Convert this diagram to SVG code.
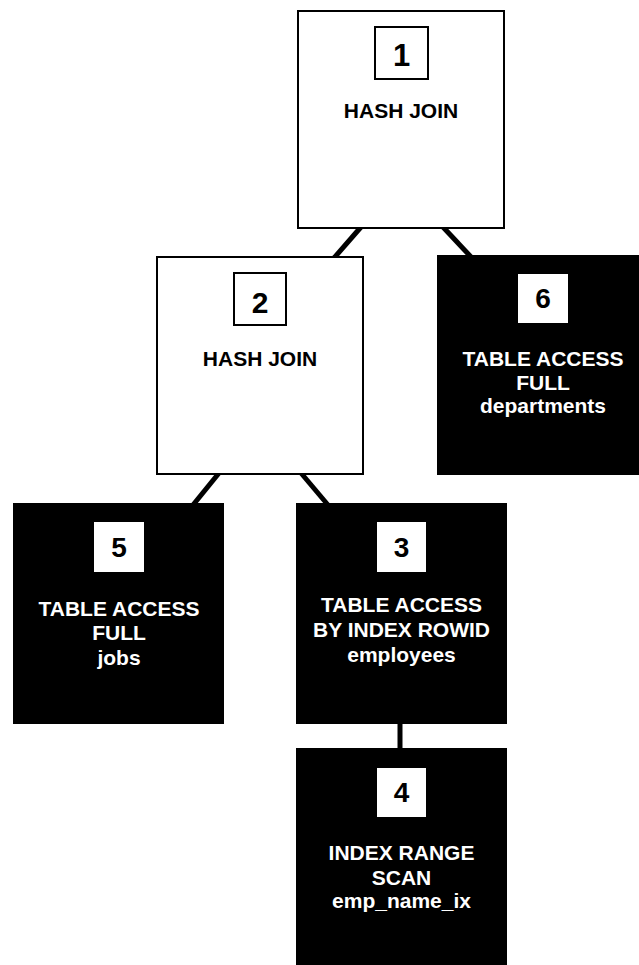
<svg xmlns="http://www.w3.org/2000/svg" width="639" height="965" viewBox="0 0 639 965">
<style>
.wn{fill:#fff;stroke:#000;stroke-width:2}
.bn{fill:#000}
.wb{fill:#fff;stroke:#000;stroke-width:2}
.bb{fill:#fff}
.t{font-family:"Liberation Sans",Arial,sans-serif;font-weight:bold;font-size:21px;text-anchor:middle}
.tw{fill:#fff}
.tk{fill:#000}
.num{font-family:"Liberation Sans",Arial,sans-serif;font-weight:bold;text-anchor:middle;fill:#000}
.c{stroke:#000;stroke-width:5;fill:none}
</style>
<rect width="639" height="965" fill="#fff"/>
<g id="connectors">
<line class="c" x1="361" y1="227" x2="334" y2="258"/>
<line class="c" x1="443" y1="227" x2="472" y2="258"/>
<line class="c" x1="219" y1="473" x2="193" y2="505"/>
<line class="c" x1="301" y1="473" x2="328" y2="505"/>
<line class="c" x1="400" y1="720" x2="400" y2="752"/>
</g>
<g id="node1">
<rect class="wn" x="298" y="11" width="206" height="217"/>
<rect class="wb" x="375" y="27" width="53" height="52"/>
<text class="num" x="401.5" y="66" font-size="31">1</text>
<text class="t tk" x="401" y="118">HASH JOIN</text>
</g>
<g id="node2">
<rect class="wn" x="157" y="257" width="206" height="217"/>
<rect class="wb" x="234" y="273" width="52" height="52"/>
<text class="num" x="260" y="313" font-size="30">2</text>
<text class="t tk" x="260" y="366">HASH JOIN</text>
</g>
<g id="node6">
<rect class="bn" x="437" y="255" width="211" height="220"/>
<rect class="bb" x="518" y="274" width="50" height="49"/>
<text class="num" x="543" y="308" font-size="28">6</text>
<text class="t tw" x="543" y="366">TABLE ACCESS</text>
<text class="t tw" x="543" y="390">FULL</text>
<text class="t tw" x="543" y="413">departments</text>
</g>
<g id="node5">
<rect class="bn" x="13" y="503" width="211" height="221"/>
<rect class="bb" x="94" y="522" width="50" height="50"/>
<text class="num" x="119" y="557" font-size="28">5</text>
<text class="t tw" x="119" y="616">TABLE ACCESS</text>
<text class="t tw" x="119" y="640">FULL</text>
<text class="t tw" x="119" y="665">jobs</text>
</g>
<g id="node3">
<rect class="bn" x="296" y="503" width="211" height="221"/>
<rect class="bb" x="377" y="522" width="49" height="50"/>
<text class="num" x="401.5" y="557" font-size="28">3</text>
<text class="t tw" x="401.5" y="612">TABLE ACCESS</text>
<text class="t tw" x="401.5" y="637">BY INDEX ROWID</text>
<text class="t tw" x="401.5" y="662">employees</text>
</g>
<g id="node4">
<rect class="bn" x="296" y="748" width="211" height="220"/>
<rect class="bb" x="377" y="768" width="49" height="49"/>
<text class="num" x="401.5" y="802" font-size="28">4</text>
<text class="t tw" x="401.5" y="860">INDEX RANGE</text>
<text class="t tw" x="401.5" y="885">SCAN</text>
<text class="t tw" x="401.5" y="908">emp_name_ix</text>
</g>
</svg>
